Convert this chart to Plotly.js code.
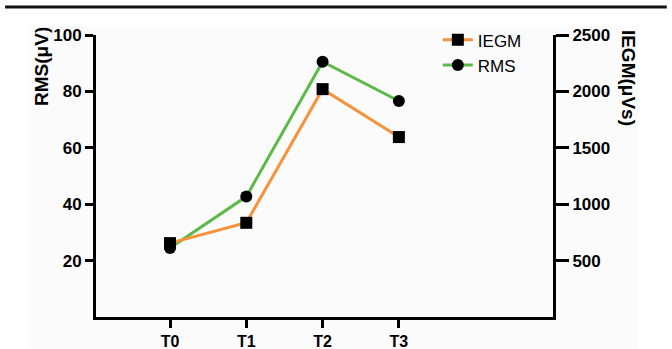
<!DOCTYPE html>
<html>
<head>
<meta charset="utf-8">
<script src="https://cdn.plot.ly/plotly-3.0.1.min.js"></script>
<style>html,body{margin:0;padding:0;background:#fff;}</style>
</head>
<body>
<div id="chart" style="width:672px;height:349px;"></div>
<script>
const categories = ["T0", "T1", "T2", "T3"];
const catIndex = [0, 1, 2, 3];
const iegmValues = [655, 835, 2020, 1595];
const rmsValues = [24.5, 42.7, 90.5, 76.6];
const rmsTicks = [20, 40, 60, 80, 100];
const iegmTicks = [500, 1000, 1500, 2000, 2500];

const fontFam = "Liberation Sans, Arial, sans-serif";

const traces = [
  {
    x: catIndex, y: iegmValues, name: "IEGM", yaxis: "y2",
    type: "scatter", mode: "lines+markers",
    line: {color: "#f7923a", width: 3},
    marker: {symbol: "square", size: 12, color: "#000"}
  },
  {
    x: catIndex, y: rmsValues, name: "RMS", yaxis: "y",
    type: "scatter", mode: "lines+markers",
    line: {color: "#5cb847", width: 3},
    marker: {symbol: "circle", size: 12, color: "#000"}
  }
];

const tf = {size: 17, family: fontFam, weight: "bold", color: "#000"};

const layout = {
  width: 672, height: 349,
  margin: {l: 96, r: 119, t: 35, b: 32},
  paper_bgcolor: "#ffffff",
  plot_bgcolor: "rgba(0,0,0,0)",
  showlegend: true,
  font: {family: fontFam, color: "#000"},
  legend: {
    x: 0.748, y: 1.045, xanchor: "left", yanchor: "top",
    bgcolor: "rgba(0,0,0,0)",
    font: {size: 17, family: fontFam, color: "#000"},
    tracegroupgap: 0, itemwidth: 30
  },
  xaxis: {
    range: [-0.97, 5.02],
    tickvals: catIndex, ticktext: categories,
    showgrid: false, zeroline: false,
    showline: true, linecolor: "#000", linewidth: 3,
    ticks: "outside", ticklen: 8, tickwidth: 3, tickcolor: "#000",
    tickfont: {size: 16, family: fontFam, weight: "bold", color: "#000"}
  },
  yaxis: {
    range: [0, 100],
    tickvals: rmsTicks,
    showgrid: false, zeroline: false,
    showline: true, linecolor: "#000", linewidth: 3,
    ticks: "outside", ticklen: 8, tickwidth: 3, tickcolor: "#000",
    tickfont: tf
  },
  yaxis2: {
    range: [0, 2500],
    overlaying: "y", side: "right",
    tickvals: iegmTicks,
    showgrid: false, zeroline: false,
    showline: true, linecolor: "#000", linewidth: 3,
    ticks: "outside", ticklen: 13, tickwidth: 3, tickcolor: "#000",
    tickfont: tf
  },
  shapes: [
    {type: "rect", xref: "paper", yref: "paper", x0: -0.149, x1: 1.186, y0: -0.12, y1: 1.032,
     fillcolor: "#fbfbfc", line: {width: 0}, layer: "below"},
    {type: "line", xref: "paper", yref: "paper", x0: -0.199, x1: 1.249, y0: 1.099, y1: 1.099,
     line: {color: "#111", width: 3}}
  ],
  annotations: [
    {text: "<b>RMS(μV)</b>", xref: "paper", yref: "paper", x: -0.118, y: 0.887,
     xanchor: "center", yanchor: "middle",
     textangle: -90, showarrow: false, font: {size: 19, family: fontFam, color: "#000"}},
    {text: "<b>IEGM(μVs)</b>", xref: "paper", yref: "paper", x: 1.164, y: 0.848,
     xanchor: "center", yanchor: "middle",
     textangle: 90, showarrow: false, font: {size: 19, family: fontFam, color: "#000"}}
  ]
};

Plotly.newPlot("chart", traces, layout, {displayModeBar: false, staticPlot: true});
</script>
</body>
</html>
